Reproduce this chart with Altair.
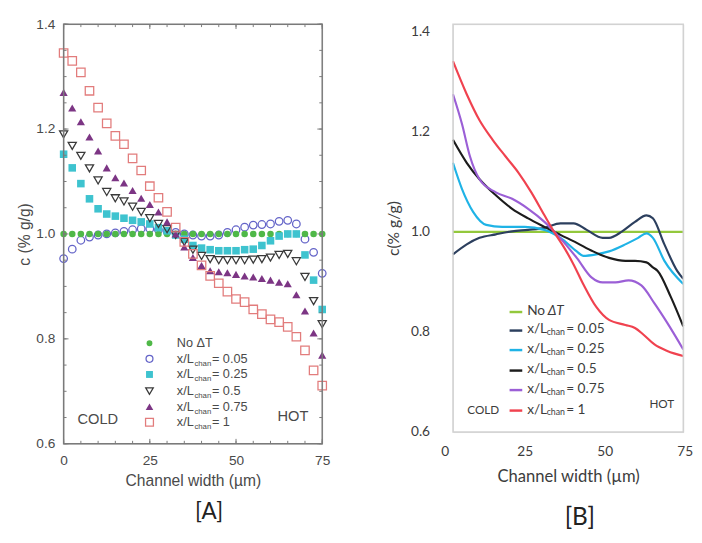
import altair as alt
import pandas as pd

# ---------------- Panel A data (symbols) ----------------
X_A = [0, 2.5, 5, 7.5, 10, 12.5, 15, 17.5, 20, 22.5, 25, 27.5, 30, 32.5, 35, 37.5,
       40, 42.5, 45, 47.5, 50, 52.5, 55, 57.5, 60, 62.5, 65, 67.5, 70, 72.5, 75]
A_NO_DT = [1.0, 1.0, 1.0, 1.0, 1.0, 1.0, 1.0, 1.0, 1.0, 1.0, 1.0, 1.0, 1.0, 1.0, 1.0, 1.0,
           1.0, 1.0, 1.0, 1.0, 1.0, 1.0, 1.0, 1.0, 1.0, 1.0, 1.0, 1.0, 1.0, 1.0, 1.0]
A_005 = [0.953, 0.971, 0.988, 0.994, 0.998, 1.0, 1.002, 1.005, 1.008, 1.01, 1.01, 1.008, 1.005,
         1.003, 1.0, 0.998, 0.996, 0.996, 0.998, 1.003, 1.008, 1.013, 1.017, 1.018, 1.019,
         1.024, 1.026, 1.019, 0.99, 0.965, 0.925]
A_025 = [1.152, 1.126, 1.096, 1.067, 1.048, 1.038, 1.034, 1.03, 1.026, 1.023, 1.019, 1.012,
         1.006, 0.998, 0.99, 0.978, 0.973, 0.97, 0.968, 0.968, 0.968, 0.97, 0.971, 0.978,
         0.987, 0.996, 1.0, 1.0, 0.96, 0.912, 0.856]
A_05 = [1.19, 1.168, 1.149, 1.125, 1.102, 1.08, 1.068, 1.062, 1.052, 1.042, 1.03, 1.019,
        1.009, 0.998, 0.985, 0.97, 0.958, 0.952, 0.95, 0.95, 0.95, 0.95, 0.951, 0.952,
        0.955, 0.96, 0.962, 0.948, 0.918, 0.872, 0.828]
A_075 = [1.27, 1.24, 1.214, 1.185, 1.158, 1.126, 1.107, 1.097, 1.083, 1.068, 1.056, 1.042,
         1.023, 1.0, 0.975, 0.955, 0.94, 0.93, 0.928, 0.926, 0.923, 0.92, 0.918, 0.915,
         0.912, 0.908, 0.905, 0.884, 0.853, 0.811, 0.769]
A_1 = [1.345, 1.33, 1.308, 1.273, 1.241, 1.211, 1.187, 1.171, 1.144, 1.121, 1.091, 1.069,
       1.042, 1.012, 0.985, 0.962, 0.94, 0.92, 0.906, 0.89, 0.876, 0.87, 0.856, 0.847,
       0.837, 0.832, 0.823, 0.804, 0.778, 0.74, 0.711]

# ---------------- Panel B data (smoothed lines) ----------------
B_NO_DT_X = [2.4, 74.4]
B_NO_DT_Y = [1.0, 1.0]
B_005_X = [2.4, 6.7, 10.7, 15.8, 20.9, 25.9, 31.0, 36.0, 40.1, 44.2, 49.2, 51.2, 55.3, 59.3,
           62.9, 64.9, 68.5, 72.5, 74.4]
B_005_Y = [0.955, 0.975, 0.988, 0.995, 1.001, 1.004, 1.008, 1.017, 1.017, 1.004, 0.988, 0.988,
           1.001, 1.02, 1.033, 1.027, 0.975, 0.922, 0.906]
B_025_X = [2.4, 5.2, 8.7, 12.8, 17.8, 24.8, 31.0, 36.0, 41.1, 43.1, 47.2, 51.2, 56.3, 60.3,
           62.9, 64.9, 68.5, 74.4]
B_025_Y = [1.138, 1.086, 1.04, 1.014, 1.01, 1.01, 1.004, 0.988, 0.961, 0.952, 0.955, 0.961,
           0.975, 0.988, 0.997, 0.988, 0.942, 0.896]
B_05_X = [2.4, 6.7, 10.7, 15.8, 20.9, 25.9, 31.0, 36.0, 41.1, 46.2, 51.2, 56.3, 59.3, 62.9,
          64.9, 66.4, 70.5, 74.4]
B_05_Y = [1.184, 1.138, 1.105, 1.073, 1.046, 1.027, 1.01, 0.994, 0.978, 0.961, 0.948, 0.942,
          0.942, 0.939, 0.929, 0.922, 0.87, 0.811]
B_075_X = [2.4, 5.2, 7.7, 10.7, 15.8, 20.9, 25.9, 31.0, 35.0, 41.1, 45.7, 49.2, 53.2, 57.3,
           61.3, 65.4, 69.4, 74.4]
B_075_Y = [1.275, 1.216, 1.151, 1.105, 1.079, 1.066, 1.046, 1.02, 0.994, 0.948, 0.909, 0.899,
           0.899, 0.903, 0.893, 0.857, 0.818, 0.765]
B_1_X = [2.4, 6.7, 10.7, 14.8, 18.8, 22.9, 26.9, 31.0, 34.0, 37.5, 40.1, 43.1, 47.2, 51.2,
         56.3, 59.3, 61.9, 65.4, 69.4, 74.4]
B_1_Y = [1.341, 1.275, 1.223, 1.184, 1.151, 1.118, 1.079, 1.033, 1.0, 0.965, 0.935, 0.896,
         0.85, 0.824, 0.814, 0.808, 0.795, 0.775, 0.762, 0.752]

SERIES = ["No ΔT", "0.05", "0.25", "0.5", "0.75", "1"]

# tick values
TICK_X = [0, 25, 50, 75]
TICK_Y = [0.6, 0.8, 1.0, 1.2, 1.4]
MINOR_X_A = [0, 5, 10, 15, 20, 25, 30, 35, 40, 45, 50, 55, 60, 65, 70, 75]
MINOR_Y_A = [0.6, 0.65, 0.7, 0.75, 0.8, 0.85, 0.9, 0.95, 1.0, 1.05, 1.1, 1.15, 1.2,
             1.25, 1.3, 1.35, 1.4]

# ---------------- styles ----------------
FA = "Liberation Sans"
FB = "Lato"
TXT_A = "#4a4a4a"
TXT_B = "#3c3c3c"
FRAME_A = "#7a7a7a"
FRAME_B = "#d2d2d2"

W_A, H_A = 265, 430
W_B, H_B = 236, 418

A_STYLE = {
    "No ΔT": dict(shape="circle", filled=True, color="#4fb848", size=45),
    "0.05": dict(shape="circle", filled=False, color="#6464c8", size=60),
    "0.25": dict(shape="square", filled=True, color="#3ec3cf", size=60),
    "0.5": dict(shape="triangle-down", filled=False, color="#3a3a3a", size=70),
    "0.75": dict(shape="triangle-up", filled=True, color="#7c3584", size=70),
    "1": dict(shape="square", filled=False, color="#e27c7c", size=75),
}
B_COLORS = {
    "No ΔT": "#93c83c",
    "0.05": "#2c3f5e",
    "0.25": "#1fb3e6",
    "0.5": "#1c1c1c",
    "0.75": "#9b5fd6",
    "1": "#f0424f",
}

xA = alt.Scale(domain=[0, 75], nice=False, zero=False)
yA = alt.Scale(domain=[0.6, 1.4], nice=False, zero=False)
xB = alt.Scale(domain=[2.4, 74.4], nice=False, zero=False)
yB = alt.Scale(domain=[0.6, 1.415], nice=False, zero=False)

axXA = alt.Axis(values=TICK_X, title="Channel width (µm)", labelFont=FA, labelFontSize=14,
                labelColor=TXT_A, labelPadding=10, ticks=False, tickSize=0, domain=False,
                grid=False, labelFlush=False, titleFont=FA, titleFontSize=16,
                titleFontWeight="normal", titleColor=TXT_A, titlePadding=6)
axYA = alt.Axis(values=TICK_Y, format=".1f", title="c (% g/g)", labelFont=FA, labelFontSize=14,
                labelColor=TXT_A, labelPadding=9, ticks=False, tickSize=0, domain=False,
                grid=False, titleFont=FA, titleFontSize=16, titleFontWeight="normal",
                titleColor=TXT_A, titlePadding=3)
axXB = alt.Axis(labels=False, title="Channel width (µm)", ticks=False, tickSize=0, domain=False,
                grid=False, titleFont=FB, titleFontSize=17, titleFontWeight="normal",
                titleColor=TXT_B, titlePadding=38)
axYB = alt.Axis(values=TICK_Y, format=".1f", title="c(% g/g)", labelFont=FB, labelFontSize=14,
                labelColor=TXT_B, labelPadding=24, ticks=False, tickSize=0, domain=False,
                grid=False, titleFont=FB, titleFontSize=16, titleFontWeight="normal",
                titleColor=TXT_B, titlePadding=9)


def one():
    return pd.DataFrame({"k": [0]})


def txt(text, x, y, size, font, color, align="left", style="normal"):
    return alt.Chart(pd.DataFrame({"t": [text]})).mark_text(
        align=align, baseline="middle", font=font, fontSize=size, color=color,
        fontStyle=style
    ).encode(x=alt.value(x), y=alt.value(y), text="t:N")


def frame(w, h, color, sw):
    return alt.Chart(one()).mark_rect(fill=None, fillOpacity=0, stroke=color,
                                      strokeWidth=sw).encode(
        x=alt.value(0), x2=alt.value(w), y=alt.value(0), y2=alt.value(h))


# ---------------- Panel A ----------------
a_vals = {"No ΔT": A_NO_DT, "0.05": A_005, "0.25": A_025, "0.5": A_05, "0.75": A_075, "1": A_1}
layers_a = []

draw_order = ["0.05", "No ΔT", "0.25", "0.5", "0.75", "1"]
for s in draw_order:
    st = A_STYLE[s]
    d = pd.DataFrame({"x": X_A, "c": a_vals[s]})
    layers_a.append(alt.Chart(d).mark_point(
        shape=st["shape"], filled=st["filled"], color=st["color"], size=st["size"],
        strokeWidth=1.3, opacity=1
    ).encode(x=alt.X("x:Q", scale=xA, axis=axXA), y=alt.Y("c:Q", scale=yA, axis=axYA)))

# inward ticks on all four sides
for vals, ln in ((MINOR_X_A, 3), (TICK_X, 5)):
    d = pd.DataFrame({"v": vals})
    enc_x = alt.X("v:Q", scale=xA, axis=axXA)
    layers_a.append(alt.Chart(d).mark_rule(color=FRAME_A, strokeWidth=1).encode(
        x=enc_x, y=alt.value(H_A), y2=alt.value(H_A - ln)))
    layers_a.append(alt.Chart(d).mark_rule(color=FRAME_A, strokeWidth=1).encode(
        x=enc_x, y=alt.value(0), y2=alt.value(ln)))
for vals, ln in ((MINOR_Y_A, 3), (TICK_Y, 5)):
    d = pd.DataFrame({"v": vals})
    enc_y = alt.Y("v:Q", scale=yA, axis=axYA)
    layers_a.append(alt.Chart(d).mark_rule(color=FRAME_A, strokeWidth=1).encode(
        y=enc_y, x=alt.value(0), x2=alt.value(ln)))
    layers_a.append(alt.Chart(d).mark_rule(color=FRAME_A, strokeWidth=1).encode(
        y=enc_y, x=alt.value(W_A), x2=alt.value(W_A - ln)))

layers_a.append(frame(W_A, H_A, FRAME_A, 1.5))

# legend A
LEG_A_Y = [327, 343, 359, 376, 392, 408]
for i, s in enumerate(SERIES):
    st = A_STYLE[s]
    y = LEG_A_Y[i]
    layers_a.append(alt.Chart(one()).mark_point(
        shape=st["shape"], filled=st["filled"], color=st["color"], size=st["size"] - 10,
        strokeWidth=1.3, opacity=1
    ).encode(x=alt.value(88), y=alt.value(y)))
    if s == "No ΔT":
        layers_a.append(txt("No ΔT", 116, y, 13, FA, TXT_A))
    else:
        layers_a.append(txt("x/L", 116, y, 13, FA, TXT_A))
        layers_a.append(txt("chan", 134, y + 5, 8, FA, TXT_A))
        layers_a.append(txt("= " + s, 152, y, 13, FA, TXT_A))

layers_a.append(txt("COLD", 35, 405, 15, FA, TXT_A, align="center"))
layers_a.append(txt("HOT", 235, 402, 15, FA, TXT_A, align="center"))
layers_a.append(txt("[A]", 149, 500, 23, FB, "#222222", align="center"))

panel_a = alt.layer(*layers_a).properties(width=W_A, height=H_A)

# ---------------- Panel B ----------------
b_xy = {"No ΔT": (B_NO_DT_X, B_NO_DT_Y), "0.05": (B_005_X, B_005_Y),
        "0.25": (B_025_X, B_025_Y), "0.5": (B_05_X, B_05_Y),
        "0.75": (B_075_X, B_075_Y), "1": (B_1_X, B_1_Y)}
layers_b = []
for s in SERIES:
    xs, ys = b_xy[s]
    d = pd.DataFrame({"x": xs, "c": ys})
    layers_b.append(alt.Chart(d).mark_line(
        color=B_COLORS[s], strokeWidth=2.2, interpolate="monotone"
    ).encode(x=alt.X("x:Q", scale=xB, axis=axXB), y=alt.Y("c:Q", scale=yB, axis=axYB)))

# x tick labels of panel B (placed through the x scale)
layers_b.append(alt.Chart(pd.DataFrame({"v": TICK_X})).mark_text(
    font=FB, fontSize=14, color=TXT_B, baseline="middle", align="center"
).encode(x=alt.X("v:Q", scale=xB, axis=axXB), y=alt.value(H_B + 21), text="v:N"))

layers_b.append(frame(W_B, H_B, FRAME_B, 1.5))

# legend B
LEG_B_Y = [294, 313, 333, 354, 374, 395]
for i, s in enumerate(SERIES):
    y = LEG_B_Y[i]
    layers_b.append(alt.Chart(one()).mark_rule(color=B_COLORS[s], strokeWidth=2.5).encode(
        x=alt.value(58), x2=alt.value(71), y=alt.value(y + 1)))
    if s == "No ΔT":
        layers_b.append(txt("No", 76, y, 14, FB, TXT_B))
        layers_b.append(txt("ΔT", 97, y, 14, FB, TXT_B, style="italic"))
    else:
        layers_b.append(txt("x/L", 76, y, 14, FB, TXT_B))
        layers_b.append(txt("chan", 96, y + 3, 9, FB, TXT_B))
        layers_b.append(txt("= " + s, 116, y, 14, FB, TXT_B))

layers_b.append(txt("COLD", 31, 395, 12, FB, TXT_B, align="center"))
layers_b.append(txt("HOT", 214, 389, 12, FB, TXT_B, align="center"))
layers_b.append(txt("[B]", 130, 505, 25, FB, "#222222", align="center"))

panel_b = alt.layer(*layers_b).properties(width=W_B, height=H_B)

chart = alt.hconcat(panel_a, panel_b, spacing=55).properties(
    padding={"left": 9, "top": 2, "right": 0, "bottom": 0}
).configure_view(stroke=None).configure(background="white")

chart.save("out.html", embed_options={"renderer": "svg", "actions": False})
